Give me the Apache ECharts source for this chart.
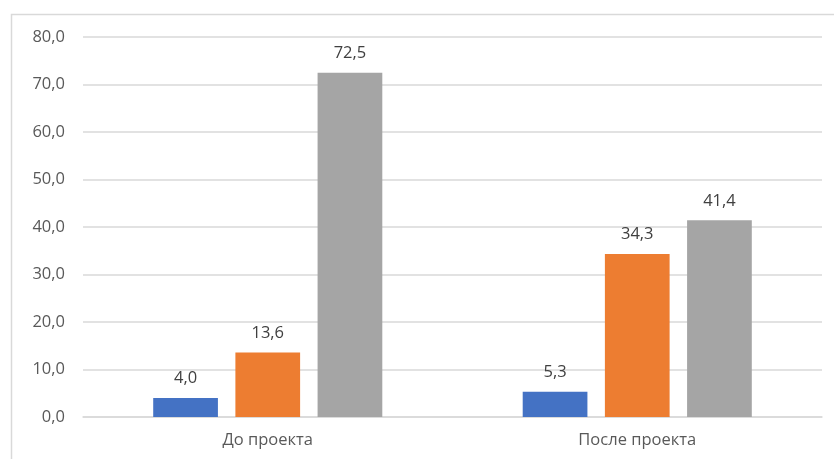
<!DOCTYPE html>
<html>
<head>
<meta charset="utf-8">
<script src="https://cdn.jsdelivr.net/npm/echarts@6/dist/echarts.min.js"></script>
<style>html,body{margin:0;padding:0;background:#fff;}#c{width:834px;height:459px;}</style>
</head>
<body>
<div id="c"></div>
<script>
const categories = ['До проекта', 'После проекта'];
const seriesA = [4.0, 5.3];
const seriesB = [13.6, 34.3];
const seriesC = [72.5, 41.4];
const colors = ['#4472C4', '#ED7D31', '#A5A5A5'];

const fmt = v => Number(v).toFixed(1).replace('.', ',');
const font = 'Open Sans';
const fs = 16.5;

function bar(data, color) {
  return {
    type: 'bar',
    data: data,
    barGap: '27%',
    barCategoryGap: '38%',
    itemStyle: { color: color },
    label: {
      show: true, position: 'top', distance: 11,
      formatter: p => fmt(p.value),
      color: '#404040', fontSize: fs, fontFamily: font
    }
  };
}

const chart = echarts.init(document.getElementById('c'));
chart.setOption({
  animation: false,
  graphic: [{
    type: 'rect', silent: true,
    shape: { x: 11.5, y: 14.5, width: 900, height: 600 },
    style: { fill: 'none', stroke: '#d9d9d9', lineWidth: 1.5 }
  }],
  grid: { left: 83, right: 12, top: 37, bottom: 42 },
  xAxis: {
    type: 'category', data: categories,
    axisTick: { show: false },
    axisLine: { lineStyle: { color: '#d9d9d9', width: 1.5 } },
    axisLabel: { color: '#595959', fontSize: fs, fontFamily: font, margin: 15 }
  },
  yAxis: {
    type: 'value', min: 0, max: 80, interval: 10,
    axisLine: { show: false }, axisTick: { show: false },
    splitLine: { lineStyle: { color: '#d9d9d9', width: 1.5 } },
    axisLabel: { color: '#595959', fontSize: fs, fontFamily: font, margin: 18, formatter: v => fmt(v) }
  },
  series: [bar(seriesA, colors[0]), bar(seriesB, colors[1]), bar(seriesC, colors[2])]
});
</script>
</body>
</html>
